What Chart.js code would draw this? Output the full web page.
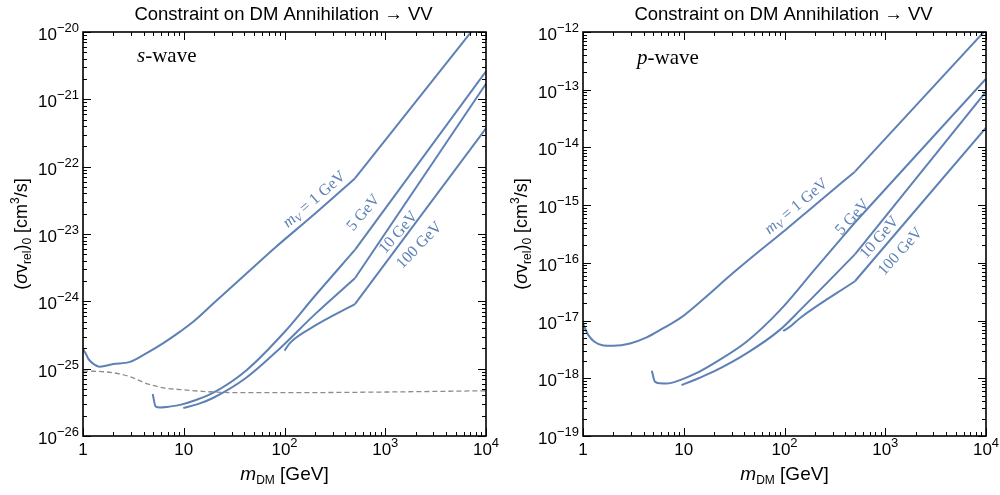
<!DOCTYPE html>
<html>
<head>
<meta charset="utf-8">
<script src="https://cdn.jsdelivr.net/npm/chart.js@4"></script>
<style>
  body { margin: 0; background: #fff; }
  #wrap { display: flex; width: 1000px; height: 495px; }
  .panel { position: relative; width: 500px; height: 495px; }
</style>
</head>
<body>
<div id="wrap">
  <div class="panel"><canvas id="sWaveChart"></canvas></div>
  <div class="panel"><canvas id="pWaveChart"></canvas></div>
</div>
<script>
// axis decades (exponents of 10)
const massDecades = [0, 1, 2, 3, 4];
const sSigmaDecades = [-26, -25, -24, -23, -22, -21, -20];
const pSigmaDecades = [-19, -18, -17, -16, -15, -14, -13, -12];
const kneeMass = 500;

// s-wave curves
const sMassV1 = [1, 1.06, 1.13, 1.25, 1.47, 2, 2.93, 4.28, 6.27, 9.2, 12.5, 20, 30, 50, 80, 200, 500, 10000];
const sSigmaV1 = [1.95e-25, 1.7e-25, 1.4e-25, 1.2e-25, 1.07e-25, 1.17e-25, 1.26e-25, 1.7e-25, 2.4e-25, 3.55e-25, 5e-25, 9.5e-25, 1.65e-24, 3.3e-24, 6.2e-24, 2.0e-23, 6.7e-23, 1.9e-20];
const sMassV5 = [4.92, 5.25, 5.8, 6.76, 9.2, 13, 19.7, 42, 100, 200, 500, 10000];
const sSigmaV5 = [4.2e-26, 2.75e-26, 2.65e-26, 2.7e-26, 2.9e-26, 3.4e-26, 4.4e-26, 9.5e-26, 3.5e-25, 1.2e-24, 5.8e-24, 2.6e-21];
const sMassV10 = [9.9, 14, 19.7, 42, 90, 200, 500, 10000];
const sSigmaV10 = [2.6e-26, 3.0e-26, 3.7e-26, 7.4e-26, 2.0e-25, 6.4e-25, 2.2e-24, 1.7e-21];
const sMassV100 = [100, 113, 193, 500, 10000];
const sSigmaV100 = [1.85e-25, 2.4e-25, 4.2e-25, 9.1e-25, 3.7e-22];
const sMassRef = [1, 2, 2.93, 4.28, 6.27, 9.2, 19.7, 42, 100, 1000, 10000];
const sSigmaRef = [9.3e-26, 8.7e-26, 7.6e-26, 6.0e-26, 5.2e-26, 4.9e-26, 4.5e-26, 4.4e-26, 4.4e-26, 4.5e-26, 4.7e-26];

// p-wave curves
const pMassV1 = [1, 1.06, 1.13, 1.3, 1.59, 2, 2.93, 4.28, 6.27, 9.2, 15.4, 30, 60, 100, 200, 500, 10000];
const pSigmaV1 = [9.0e-18, 7.0e-18, 5.6e-18, 4.3e-18, 3.7e-18, 3.65e-18, 4.0e-18, 5.1e-18, 7.4e-18, 1.1e-17, 2.3e-17, 6.4e-17, 1.75e-16, 3.6e-16, 1.0e-15, 3.8e-15, 1.1e-12];
const pMassV5 = [4.82, 5.18, 5.8, 6.75, 9.2, 13, 19.7, 42, 90, 200, 500, 10000];
const pSigmaV5 = [1.35e-18, 8.7e-19, 8.2e-19, 8.1e-19, 9.3e-19, 1.2e-18, 1.8e-18, 4.3e-18, 1.5e-17, 7.7e-17, 5e-16, 1.55e-13];
const pMassV10 = [9.5, 14, 19.7, 42, 90, 142, 500, 10000];
const pSigmaV10 = [7.6e-19, 1.0e-18, 1.3e-18, 2.7e-18, 6.9e-18, 1.5e-17, 1.4e-16, 9.3e-14];
const pMassV100 = [97, 114, 142, 500, 10000];
const pSigmaV100 = [6.6e-18, 7.9e-18, 1.1e-17, 4.8e-17, 2.2e-14];

// curve labels: text, where (data coords) and tilt in degrees
const curveLabels = ["1 GeV", "5 GeV", "10 GeV", "100 GeV"];
const sLabelMass = [196, 601, 1339, 2162];
const sLabelSigma = [3.3e-23, 2.1e-23, 1.07e-23, 6.9e-24];
const sLabelAngle = [41, 50, 49, 46];
const pLabelMass = [130, 468, 867, 1400];
const pLabelSigma = [9.7e-16, 6.3e-16, 2.8e-16, 1.6e-16];
const pLabelAngle = [40, 48, 49, 48];

const BLUE = "#5e81b5";
const SANS = "'Liberation Sans', Arial, sans-serif";
const SERIF = "'Liberation Serif', 'Times New Roman', serif";

const toPoints = (xs, ys) => xs.map((x, i) => ({ x: x, y: ys[i] }));

function lineSet(points, smooth) {
  return {
    data: points,
    borderColor: BLUE,
    borderWidth: 2,
    borderJoinStyle: "round",
    pointRadius: 0,
    cubicInterpolationMode: smooth ? "monotone" : "default",
    tension: 0,
    clip: 0,
  };
}

// smooth part up to the knee, straight part after it
function curve(xs, ys) {
  const pts = toPoints(xs, ys);
  const k = xs.indexOf(kneeMass);
  if (k < 0) return [lineSet(pts, true)];
  return [lineSet(pts.slice(0, k + 1), true), lineSet(pts.slice(k), false)];
}

function drawRuns(ctx, runs, x, y, align) {
  let total = 0;
  runs.forEach((r) => {
    ctx.font = r.font;
    r.w = ctx.measureText(r.text).width;
    total += r.w;
  });
  let cx = align === "right" ? x - total : align === "center" ? x - total / 2 : x;
  runs.forEach((r) => {
    ctx.font = r.font;
    ctx.fillText(r.text, cx, y + (r.dy || 0));
    cx += r.w;
  });
}

function powerRuns(exp) {
  if (exp === 0) return [{ text: "1", font: "17px " + SANS }];
  if (exp === 1) return [{ text: "10", font: "17px " + SANS }];
  const e = exp < 0 ? "\u2212" + Math.abs(exp) : String(exp);
  return [
    { text: "10", font: "17px " + SANS },
    { text: e, font: "13px " + SANS, dy: -8 },
  ];
}

function tickList(decades) {
  const out = [];
  decades.forEach((e, i) => {
    for (let k = 1; k <= 9; k++) {
      if (i === decades.length - 1 && k > 1) break;
      out.push({ value: k * Math.pow(10, e), major: k === 1, exp: e });
    }
  });
  return out;
}

const decorPlugin = {
  id: "decor",
  afterDraw(chart, args, opts) {
    const ctx = chart.ctx;
    const a = chart.chartArea;
    const xs = chart.scales.x;
    const ys = chart.scales.y;
    ctx.save();
    ctx.fillStyle = "#000";
    ctx.strokeStyle = "#000";
    ctx.textAlign = "left";
    ctx.textBaseline = "alphabetic";

    // ticks, inward on all sides
    ctx.lineWidth = 1;
    ctx.beginPath();
    tickList(massDecades).forEach((t) => {
      const px = Math.round(xs.getPixelForValue(t.value)) + 0.5;
      const len = t.major ? 8 : 4;
      ctx.moveTo(px, a.bottom); ctx.lineTo(px, a.bottom - len);
      ctx.moveTo(px, a.top); ctx.lineTo(px, a.top + len);
    });
    tickList(opts.yDecades).forEach((t) => {
      const py = Math.round(ys.getPixelForValue(t.value)) + 0.5;
      const len = t.major ? 8 : 4;
      ctx.moveTo(a.left, py); ctx.lineTo(a.left + len, py);
      ctx.moveTo(a.right, py); ctx.lineTo(a.right - len, py);
    });
    ctx.stroke();

    // frame
    ctx.lineWidth = 1.6;
    ctx.strokeRect(a.left, a.top, a.right - a.left, a.bottom - a.top);

    // tick labels
    massDecades.forEach((e) => {
      drawRuns(ctx, powerRuns(e), xs.getPixelForValue(Math.pow(10, e)), a.bottom + 19, "center");
    });
    opts.yDecades.forEach((e) => {
      drawRuns(ctx, powerRuns(e), a.left - 4, ys.getPixelForValue(Math.pow(10, e)) + 8, "right");
    });

    // axis titles
    const midX = (a.left + a.right) / 2;
    drawRuns(ctx, [
      { text: "m", font: "italic 19px " + SANS },
      { text: "DM", font: "12px " + SANS, dy: 4 },
      { text: " [GeV]", font: "19px " + SANS },
    ], midX, a.bottom + 44, "center");

    ctx.save();
    ctx.translate(27, (a.top + a.bottom) / 2);
    ctx.rotate(-Math.PI / 2);
    drawRuns(ctx, [
      { text: "(", font: "18px " + SANS },
      { text: "\u03c3", font: "italic 18px " + SANS },
      { text: "v", font: "18px " + SANS },
      { text: "rel", font: "12px " + SANS, dy: 4 },
      { text: ")", font: "18px " + SANS },
      { text: "0", font: "12px " + SANS, dy: 4 },
      { text: " [cm", font: "18px " + SANS },
      { text: "3", font: "12px " + SANS, dy: -8 },
      { text: "/s]", font: "18px " + SANS },
    ], 0, 0, "center");
    ctx.restore();

    // title
    drawRuns(ctx, [{ text: "Constraint on DM Annihilation \u2192 VV", font: "18.5px " + SANS }], midX - 1, 20, "center");

    // panel tag
    drawRuns(ctx, [
      { text: opts.tag, font: "italic 21px " + SERIF },
      { text: "-wave", font: "21px " + SERIF },
    ], a.left + 54, a.top + opts.tagDy, "left");

    // curve labels
    ctx.fillStyle = BLUE;
    opts.labelMass.forEach((m, i) => {
      const px = xs.getPixelForValue(m);
      const py = ys.getPixelForValue(opts.labelSigma[i]);
      ctx.save();
      ctx.translate(px, py);
      ctx.rotate(-opts.labelAngle[i] * Math.PI / 180);
      let runs = [{ text: curveLabels[i], font: "16px " + SERIF }];
      if (i === 0) {
        runs = [
          { text: "m", font: "italic 16px " + SERIF },
          { text: "V", font: "italic 11px " + SERIF, dy: 3 },
          { text: " = " + curveLabels[i], font: "16px " + SERIF },
        ];
      }
      drawRuns(ctx, runs, 0, 5, "center");
      ctx.restore();
    });
    ctx.restore();
  },
};

function makeChart(id, sets, yDecades, decor) {
  return new Chart(document.getElementById(id), {
    type: "line",
    data: { datasets: sets },
    options: {
      responsive: true,
      maintainAspectRatio: false,
      animation: false,
      layout: { padding: { left: 83, right: 14, top: 32, bottom: 59 } },
      plugins: {
        legend: { display: false },
        tooltip: { enabled: false },
        decor: Object.assign({ yDecades: yDecades }, decor),
      },
      scales: {
        x: { type: "logarithmic", min: 1, max: 1e4, display: false },
        y: {
          type: "logarithmic",
          min: Math.pow(10, yDecades[0]),
          max: Math.pow(10, yDecades[yDecades.length - 1]),
          display: false,
        },
      },
    },
    plugins: [decorPlugin],
  });
}

const sRefLine = Object.assign(lineSet(toPoints(sMassRef, sSigmaRef), true), {
  borderColor: "#8c8c8c",
  borderWidth: 1.3,
  borderDash: [5, 3],
});

makeChart("sWaveChart", [sRefLine].concat(
  curve(sMassV1, sSigmaV1),
  curve(sMassV5, sSigmaV5),
  curve(sMassV10, sSigmaV10),
  curve(sMassV100, sSigmaV100)
), sSigmaDecades, {
  tag: "s", tagDy: 30,
  labelMass: sLabelMass, labelSigma: sLabelSigma, labelAngle: sLabelAngle,
});

makeChart("pWaveChart", [].concat(
  curve(pMassV1, pSigmaV1),
  curve(pMassV5, pSigmaV5),
  curve(pMassV10, pSigmaV10),
  curve(pMassV100, pSigmaV100)
), pSigmaDecades, {
  tag: "p", tagDy: 32,
  labelMass: pLabelMass, labelSigma: pLabelSigma, labelAngle: pLabelAngle,
});
</script>
</body>
</html>
